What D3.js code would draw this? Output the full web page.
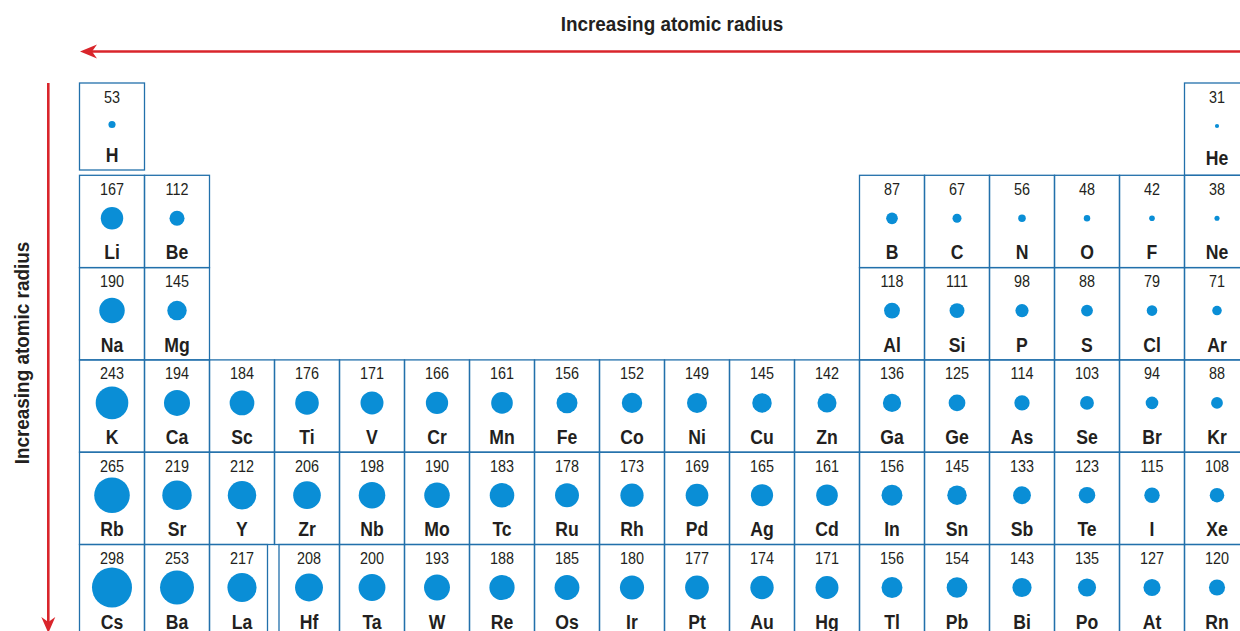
<!DOCTYPE html>
<html>
<head>
<meta charset="utf-8">
<script src="https://cdn.jsdelivr.net/npm/d3@7"></script>
<style>
  html, body { margin: 0; padding: 0; background: #fff; }
  svg { display: block; }
  text { font-family: "Liberation Sans", Arial, sans-serif; }
</style>
</head>
<body>
<svg id="chart" width="1240" height="631"></svg>
<script>
// ---- data ----
const symbols = [
  "H","He",
  "Li","Be","B","C","N","O","F","Ne",
  "Na","Mg","Al","Si","P","S","Cl","Ar",
  "K","Ca","Sc","Ti","V","Cr","Mn","Fe","Co","Ni","Cu","Zn","Ga","Ge","As","Se","Br","Kr",
  "Rb","Sr","Y","Zr","Nb","Mo","Tc","Ru","Rh","Pd","Ag","Cd","In","Sn","Sb","Te","I","Xe",
  "Cs","Ba","La","Hf","Ta","W","Re","Os","Ir","Pt","Au","Hg","Tl","Pb","Bi","Po","At","Rn"
];
const radii = [
  53,31,
  167,112,87,67,56,48,42,38,
  190,145,118,111,98,88,79,71,
  243,194,184,176,171,166,161,156,152,149,145,142,136,125,114,103,94,88,
  265,219,212,206,198,190,183,178,173,169,165,161,156,145,133,123,115,108,
  298,253,217,208,200,193,188,185,180,177,174,171,156,154,143,135,127,120
];
const periods = [
  1,1,
  2,2,2,2,2,2,2,2,
  3,3,3,3,3,3,3,3,
  4,4,4,4,4,4,4,4,4,4,4,4,4,4,4,4,4,4,
  5,5,5,5,5,5,5,5,5,5,5,5,5,5,5,5,5,5,
  6,6,6,6,6,6,6,6,6,6,6,6,6,6,6,6,6,6
];
const groups = [
  1,18,
  1,2,13,14,15,16,17,18,
  1,2,13,14,15,16,17,18,
  1,2,3,4,5,6,7,8,9,10,11,12,13,14,15,16,17,18,
  1,2,3,4,5,6,7,8,9,10,11,12,13,14,15,16,17,18,
  1,2,3,4,5,6,7,8,9,10,11,12,13,14,15,16,17,18
];
const axisLabel = "Increasing atomic radius";

const elements = symbols.map((s, i) => ({ sym: s, r: radii[i], period: periods[i], group: groups[i] }));

// ---- scales ----
const svg = d3.select("#chart");
const colW = 65, rowH = 92.3;
const x = d3.scaleBand().domain(d3.range(1, 19)).range([79.5, 79.5 + 18 * colW]).padding(0);
const y = d3.scaleBand().domain(d3.range(1, 7)).range([83, 83 + 6 * rowH]).padding(0);
const rScale = d3.scaleLinear().domain([0, 298]).range([0, 20]);

const RED = "#d9252b", BORDER = "#2270ab", DOT = "#0a8ed6", INK = "#231f20";

// ---- cells ----
const cell = svg.append("g").selectAll("g.cell").data(elements).join("g")
  .attr("class", "cell")
  .attr("transform", d => `translate(${x(d.group)},${y(d.period)})`);

cell.append("rect")
  .attr("x", d => d.sym === "Hf" ? 4.5 : 0)
  .attr("y", 0)
  .attr("width", d => d.sym === "La" ? colW - 7 : (d.sym === "Hf" ? colW - 4.5 : colW))
  .attr("height", d => d.sym === "H" ? 87 : rowH)
  .attr("fill", "none")
  .attr("stroke", BORDER)
  .attr("stroke-width", 1.3);

const cx = d => d.sym === "Hf" ? colW / 2 + 2 : colW / 2;

cell.append("text")
  .attr("transform", d => `translate(${cx(d)},19.5) scale(0.9,1)`)
  .attr("text-anchor", "middle")
  .attr("font-size", 16)
  .attr("fill", INK)
  .text(d => d.r);

cell.append("circle")
  .attr("cx", cx)
  .attr("cy", d => d.sym === "H" ? 41.5 : 43)
  .attr("r", d => rScale(d.r))
  .attr("fill", DOT);

cell.append("text")
  .attr("transform", d => `translate(${cx(d)},${d.sym === "H" ? 79 : (d.period === 1 ? 82 : 84)}) scale(0.84,1)`)
  .attr("text-anchor", "middle")
  .attr("font-size", 21)
  .attr("font-weight", "bold")
  .attr("fill", INK)
  .text(d => d.sym);

// ---- arrows ----
const ax = svg.append("g");
// horizontal
ax.append("line").attr("x1", 92).attr("x2", 1240).attr("y1", 51.5).attr("y2", 51.5)
  .attr("stroke", RED).attr("stroke-width", 2.6);
ax.append("path").attr("d", "M80,51.5 L97,44.5 L92,51.5 L97,58.5 Z").attr("fill", RED);
// vertical
ax.append("line").attr("x1", 48.3).attr("x2", 48.3).attr("y1", 83).attr("y2", 622)
  .attr("stroke", RED).attr("stroke-width", 2.6);
ax.append("path").attr("d", "M48.3,633 L41.3,617 L48.3,622 L55.3,617 Z").attr("fill", RED);

// labels
svg.append("text")
  .attr("transform", "translate(672,31) scale(0.9,1)")
  .attr("text-anchor", "middle")
  .attr("font-size", 21).attr("font-weight", "bold").attr("fill", INK)
  .text(axisLabel);
svg.append("text")
  .attr("transform", "translate(29,353) rotate(-90) scale(0.9,1)")
  .attr("text-anchor", "middle")
  .attr("font-size", 21).attr("font-weight", "bold").attr("fill", INK)
  .text(axisLabel);
</script>
</body>
</html>
